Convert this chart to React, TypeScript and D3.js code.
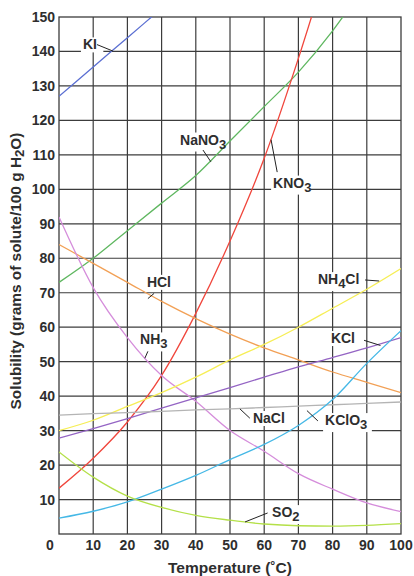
import React from "react";
import * as d3 from "d3";

const temps = [0, 10, 20, 30, 40, 50, 60, 70, 80, 90, 100];
const xTicks = [10, 20, 30, 40, 50, 60, 70, 80, 90, 100];
const yTicks = [10, 20, 30, 40, 50, 60, 70, 80, 90, 100, 110, 120, 130, 140, 150];

const kiT = [0, 10, 20, 30];
const kiV = [127, 135.5, 144, 152.5];
const nano3T = [0, 10, 20, 30, 40, 50, 60, 70, 80, 90];
const nano3V = [73, 80, 88, 96, 104, 114, 124, 134, 146, 160];
const kno3T = [0, 10, 20, 30, 40, 50, 60, 70, 80];
const kno3V = [13.3, 22, 32.5, 46, 64, 85, 109, 138, 170];
const hclV = [84, 78.5, 73, 67.5, 62.5, 58, 54, 50.5, 47, 44, 41];
const nh3V = [92, 71.5, 57, 46, 38.5, 30, 24, 17.5, 13, 9, 6.5];
const nh4clV = [30, 33, 37, 41, 45.5, 50.5, 55, 60, 65.5, 71, 77];
const kclV = [27.8, 30.6, 33.5, 36.5, 39.5, 42.5, 45.5, 48.5, 51.2, 54, 57];
const naclV = [34.5, 34.9, 35.2, 35.6, 36, 36.3, 36.7, 37.1, 37.5, 37.9, 38.3];
const kclo3V = [4.6, 6.6, 9.3, 13, 17, 21.6, 26, 31.5, 39, 49.5, 59];
const so2V = [23.8, 16.5, 11, 7.7, 5.4, 4, 2.9, 2.4, 2.3, 2.5, 3];

const seriesNames = ["KI", "NaNO3", "KNO3", "HCl", "NH3", "NH4Cl", "KCl", "NaCl", "KClO3", "SO2"];
const seriesColors = ["#5b6fd2", "#5fb760", "#f0463c", "#f2a055", "#d58ddb", "#f6ee55", "#9464c4", "#b4b4b4", "#45b8e6", "#b4e048"];
const seriesTemps = [kiT, nano3T, kno3T, temps, temps, temps, temps, temps, temps, temps];
const seriesValues = [kiV, nano3V, kno3V, hclV, nh3V, nh4clV, kclV, naclV, kclo3V, so2V];

// label: [main text, subscript, trailing text], anchor (temp, solubility) of text baseline start, leader from/to
const labelParts: [string, string, string][] = [
  ["KI", "", ""],
  ["NaNO", "3", ""],
  ["KNO", "3", ""],
  ["HCl", "", ""],
  ["NH", "3", ""],
  ["NH", "4", "Cl"],
  ["KCl", "", ""],
  ["NaCl", "", ""],
  ["KClO", "3", ""],
  ["SO", "2", ""],
];
const labelAt: [number, number][] = [
  [7.0, 140.6], [35.4, 113.0], [62.6, 100.5], [25.7, 71.7], [23.7, 55.0],
  [75.7, 72.5], [79.5, 55.4], [56.7, 32.2], [77.8, 31.6], [62.3, 4.9],
];
const leaderFrom: [number, number][] = [
  [11.1, 142.0], [42.1, 111.4], [62.0, 114.4], [26.0, 68.3], [26.0, 53.0],
  [89.5, 73.7], [89.2, 56.2], [52.9, 36.3], [72.5, 35.8], [54.4, 3.5],
];
const leaderTo: [number, number][] = [
  [15.8, 140.1], [44.4, 108.0], [63.8, 105.0], [27.8, 69.8], [25.1, 51.0],
  [93.6, 73.4], [94.0, 54.7], [55.8, 33.6], [75.7, 32.8], [61.0, 6.1],
];

const W = 414;
const H = 576;
const left = 59, right = 401, top = 17, bottom = 534;
const font = "'Liberation Sans', Arial, Helvetica, sans-serif";
const textColor = "#2e2e2e";
const gridColor = "#3c3c3c";

export default function App() {
  const x = d3.scaleLinear().domain([0, 100]).range([left, right]);
  const y = d3.scaleLinear().domain([0, 150]).range([bottom, top]);
  const line = d3
    .line<[number, number]>()
    .x((d) => x(d[0]))
    .y((d) => y(d[1]))
    .curve(d3.curveMonotoneX);

  const labelWidth = (p: [string, string, string]) =>
    (p[0].length + p[2].length) * 9.2 + p[1].length * 8;

  return (
    <svg width={W} height={H} style={{ position: "absolute", left: 0, top: 0, background: "#fff" }}>
      <defs>
        <clipPath id="plot">
          <rect x={left} y={top} width={right - left} height={bottom - top} />
        </clipPath>
      </defs>
      <rect x={0} y={0} width={W} height={H} fill="#fff" />
      {/* grid */}
      {xTicks.slice(0, -1).map((t) => (
        <line key={"vx" + t} x1={x(t)} x2={x(t)} y1={top} y2={bottom} stroke={gridColor} strokeWidth={1.2} />
      ))}
      {yTicks.slice(0, -1).map((t) => (
        <line key={"hy" + t} x1={left} x2={right} y1={y(t)} y2={y(t)} stroke={gridColor} strokeWidth={1.2} />
      ))}
      <rect x={left} y={top} width={right - left} height={bottom - top} fill="none" stroke={gridColor} strokeWidth={1.3} />
      {/* label backgrounds */}
      {labelParts.map((p, i) => (
        <rect
          key={"bg" + i}
          x={x(labelAt[i][0]) - 2}
          y={y(labelAt[i][1]) - 12}
          width={labelWidth(p) + 4}
          height={p[1] ? 19 : 15}
          fill="#fff"
        />
      ))}
      {/* curves */}
      <g clipPath="url(#plot)">
        {seriesNames.map((n, i) => (
          <path
            key={n}
            d={line(seriesTemps[i].map((t, j) => [t, seriesValues[i][j]] as [number, number])) || ""}
            fill="none"
            stroke={seriesColors[i]}
            strokeWidth={1.3}
          />
        ))}
      </g>
      {/* leaders */}
      {leaderFrom.map((f, i) => (
        <line
          key={"ld" + i}
          x1={x(f[0])}
          y1={y(f[1])}
          x2={x(leaderTo[i][0])}
          y2={y(leaderTo[i][1])}
          stroke="#222"
          strokeWidth={1}
        />
      ))}
      {/* labels */}
      {labelParts.map((p, i) => (
        <text
          key={"lb" + i}
          x={x(labelAt[i][0])}
          y={y(labelAt[i][1])}
          fontFamily={font}
          fontWeight="bold"
          fontSize={14}
          fill={textColor}
        >
          {p[0]}
          {p[1] ? (
            <tspan dy={4} fontSize={13}>
              {p[1]}
            </tspan>
          ) : null}
          {p[2] ? <tspan dy={-4}>{p[2]}</tspan> : null}
        </text>
      ))}
      {/* y tick labels */}
      {yTicks.map((t) => (
        <text
          key={"yt" + t}
          x={55}
          y={y(t) + 5}
          textAnchor="end"
          fontFamily={font}
          fontWeight="bold"
          fontSize={14}
          fill={textColor}
        >
          {t}
        </text>
      ))}
      <text x={50} y={550} textAnchor="middle" fontFamily={font} fontWeight="bold" fontSize={14} fill={textColor}>
        0
      </text>
      {xTicks.map((t) => (
        <text
          key={"xt" + t}
          x={x(t)}
          y={550}
          textAnchor="middle"
          fontFamily={font}
          fontWeight="bold"
          fontSize={14}
          fill={textColor}
        >
          {t}
        </text>
      ))}
      <text
        x={230}
        y={573}
        textAnchor="middle"
        fontFamily={font}
        fontWeight="bold"
        fontSize={15}
        textLength={124}
        lengthAdjust="spacingAndGlyphs"
        fill={textColor}
      >
        Temperature (˚C)
      </text>
      <text
        transform={`translate(21, 271) rotate(-90)`}
        textAnchor="middle"
        fontFamily={font}
        fontWeight="bold"
        fontSize={14}
        textLength={277}
        lengthAdjust="spacingAndGlyphs"
        fill={textColor}
      >
        Solubility (grams of solute/100 g H
        <tspan dy={3} fontSize={12}>2</tspan>
        <tspan dy={-3}>O)</tspan>
      </text>
    </svg>
  );
}
